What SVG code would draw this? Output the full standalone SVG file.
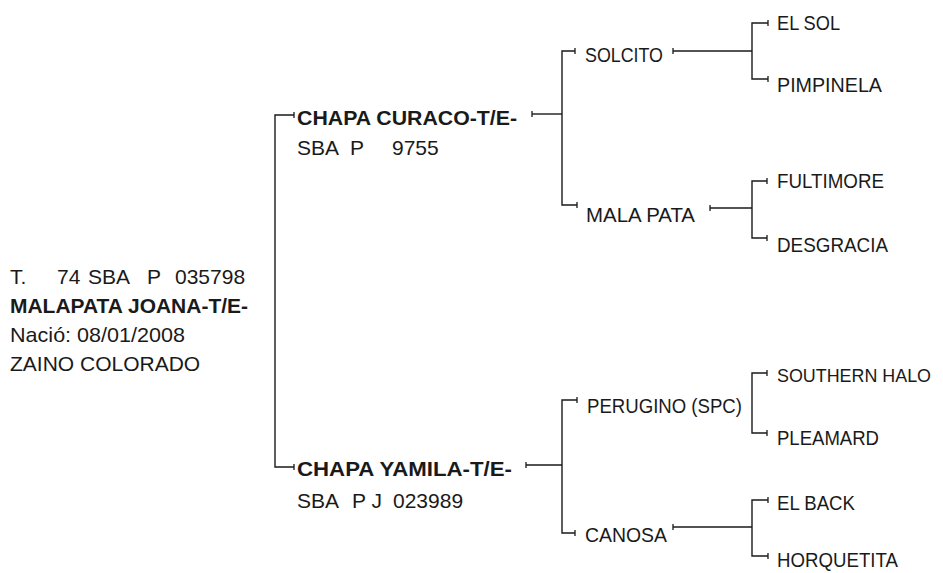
<svg xmlns="http://www.w3.org/2000/svg" width="943" height="573" viewBox="0 0 943 573">
<style>
text{font-family:"Liberation Sans",Arial,sans-serif;font-size:21px;fill:#1a1a1a}
.b{font-weight:bold}
.c{fill:none;stroke:#1a1a1a;stroke-width:1.4;marker-start:url(#t);marker-end:url(#t)}
.h{fill:none;stroke:#1a1a1a;stroke-width:1.4;marker-start:url(#t)}
</style>
<defs>
<marker id="t" markerUnits="userSpaceOnUse" markerWidth="4" markerHeight="10" viewBox="-2 -5 4 10" refX="0" refY="0" orient="auto">
<line x1="0" y1="-3" x2="0" y2="3" stroke="#1a1a1a" stroke-width="1.3"/>
</marker>
</defs>
<rect width="943" height="573" fill="#fff"/>
<g id="connectors">
<path class="c" d="M294,115 H275 V467 H294"/>
<path class="h" d="M532,114 H562"/>
<path class="c" d="M575,51 H562 V205 H577"/>
<path class="h" d="M526,465 H562"/>
<path class="c" d="M577,400 H562 V533 H575"/>
<path class="h" d="M673,51 H752"/>
<path class="c" d="M768,23 H752 V79 H768"/>
<path class="h" d="M710,208 H752"/>
<path class="c" d="M767,181 H752 V238 H767"/>
<path class="c" d="M767,373 H752 V433 H767"/>
<path class="h" d="M673,527 H752"/>
<path class="c" d="M768,500 H752 V556 H768"/>
</g>
<g id="subject">
<text y="284"><tspan x="10">T.</tspan><tspan x="57">74</tspan><tspan x="88">SBA</tspan><tspan x="147">P</tspan><tspan x="175">035798</tspan></text>
<text class="b" x="10" y="313" textLength="238" lengthAdjust="spacingAndGlyphs">MALAPATA JOANA-T/E-</text>
<text x="10" y="342" textLength="175" lengthAdjust="spacingAndGlyphs">Nació: 08/01/2008</text>
<text x="10" y="371">ZAINO COLORADO</text>
</g>
<g id="sire">
<text class="b" x="297" y="125" textLength="220" lengthAdjust="spacingAndGlyphs">CHAPA CURACO-T/E-</text>
<text y="155"><tspan x="297">SBA</tspan><tspan x="350">P</tspan><tspan x="392">9755</tspan></text>
</g>
<g id="dam">
<text class="b" x="297" y="476" textLength="215" lengthAdjust="spacingAndGlyphs">CHAPA YAMILA-T/E-</text>
<text y="508"><tspan x="297">SBA</tspan><tspan x="352">P J</tspan><tspan x="393">023989</tspan></text>
</g>
<g id="solcito"><text x="585" y="62" textLength="78" lengthAdjust="spacingAndGlyphs">SOLCITO</text></g>
<g id="mala-pata"><text x="586" y="222" textLength="109" lengthAdjust="spacingAndGlyphs">MALA PATA</text></g>
<g id="perugino"><text x="587" y="413" textLength="155" lengthAdjust="spacingAndGlyphs">PERUGINO (SPC)</text></g>
<g id="canosa"><text x="585" y="542" textLength="82" lengthAdjust="spacingAndGlyphs">CANOSA</text></g>
<g id="el-sol"><text x="777" y="30" textLength="63" lengthAdjust="spacingAndGlyphs">EL SOL</text></g>
<g id="pimpinela"><text x="777" y="92" textLength="105" lengthAdjust="spacingAndGlyphs">PIMPINELA</text></g>
<g id="fultimore"><text x="777" y="188" textLength="107" lengthAdjust="spacingAndGlyphs">FULTIMORE</text></g>
<g id="desgracia"><text x="777" y="252" textLength="111" lengthAdjust="spacingAndGlyphs">DESGRACIA</text></g>
<g id="southern-halo"><text x="777" y="382" style="font-size:18.5px" textLength="154" lengthAdjust="spacingAndGlyphs">SOUTHERN HALO</text></g>
<g id="pleamard"><text x="777" y="445" textLength="102" lengthAdjust="spacingAndGlyphs">PLEAMARD</text></g>
<g id="el-back"><text x="777" y="510" textLength="78" lengthAdjust="spacingAndGlyphs">EL BACK</text></g>
<g id="horquetita"><text x="777" y="567" textLength="121" lengthAdjust="spacingAndGlyphs">HORQUETITA</text></g>
</svg>
